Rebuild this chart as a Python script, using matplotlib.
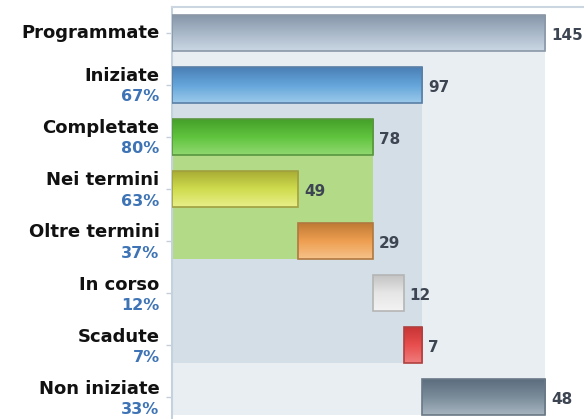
import numpy as np
import matplotlib
matplotlib.use("Agg")
import matplotlib.pyplot as plt
from matplotlib.colors import to_rgb
from matplotlib.transforms import blended_transform_factory

# ---------------- data ----------------
categories = ["Programmate", "Iniziate", "Completate", "Nei termini",
              "Oltre termini", "In corso", "Scadute", "Non iniziate"]
values = [145, 97, 78, 49, 29, 12, 7, 48]
percents = ["", "67%", "80%", "63%", "37%", "12%", "7%", "33%"]

# where each segment starts (funnel breakdown, derived from the values)
starts = [0, 0, 0, 0,
          values[3],               # Oltre termini after Nei termini
          values[2],               # In corso after Completate
          values[2] + values[5],   # Scadute after In corso
          values[1]]               # Non iniziate after Iniziate

# background groups: (parent row, last child row)
groups = [(0, 7), (1, 6), (2, 4)]

# ---------------- style ----------------
grad = [
    ("#8797A9", "#A9B8C9", "#CAD6E3", "#8A97A6"),
    ("#4A7FB5", "#64A5DA", "#9BC9EA", "#5A7FA6"),
    ("#45A02A", "#60C43E", "#90D870", "#5A9640"),
    ("#A8AD35", "#D0DC4E", "#E8EF8A", "#A0A040"),
    ("#C07A35", "#EE9F50", "#F6C28A", "#B07840"),
    ("#C4C4C4", "#E6E6E6", "#F3F3F3", "#B5B5B5"),
    ("#C83434", "#E84E4E", "#F07C7C", "#B04040"),
    ("#5C6E7E", "#7A8C9A", "#A6B4BF", "#6A7886"),
]
region_colors = ["#E9EEF3", "#D3DEE7", "#B3DB87"]
bar_h = 0.69

fig = plt.figure(figsize=(5.84, 4.19), dpi=100)
ax = fig.add_axes([171.5 / 584, 0.0, 1 - 171.5 / 584, 1 - 7 / 419])
ax.set_facecolor("white")

rows = np.arange(len(categories))

# background regions
for (p, last), col in zip(groups, region_colors):
    ax.barh((p + last) / 2 + bar_h / 2, values[p], height=last - p, left=0,
            color=col, edgecolor="none", zorder=1)

# bars
bars = ax.barh(rows, values, left=starts, height=bar_h, color="none",
               edgecolor="none", zorder=3)
for b, (c0, c1, c2, ec) in zip(bars, grad):
    x0, y0 = b.get_x(), b.get_y()
    w, h = b.get_width(), b.get_height()
    t = np.linspace(0, 1, 64)
    a0, a1, a2 = np.array(to_rgb(c0)), np.array(to_rgb(c1)), np.array(to_rgb(c2))
    cols = np.where(t[:, None] < 0.5,
                    a0 + (a1 - a0) * (t[:, None] / 0.5),
                    a1 + (a2 - a1) * ((t[:, None] - 0.5) / 0.5))
    img = np.repeat(cols[:, None, :], 2, axis=1)
    im = ax.imshow(img, extent=(x0, x0 + w, y0 + h, y0), origin="upper",
                   aspect="auto", zorder=3, interpolation="bilinear")
    im.set_clip_path(b)
    ax.add_patch(plt.Rectangle((x0, y0), w, h, fill=False, edgecolor=ec,
                               linewidth=1.2, zorder=4))

# value labels
for b, v in zip(bars, values):
    ax.annotate(str(v), (b.get_x() + b.get_width(), b.get_y() + b.get_height() / 2),
                xytext=(4.5, -1.5), textcoords="offset points", va="center",
                ha="left", fontsize=11, fontweight="bold", color="#3D4552",
                zorder=5, annotation_clip=False)

# category labels
trans = blended_transform_factory(ax.transAxes, ax.transData)
for r, name, pct in zip(rows, categories, percents):
    if pct:
        ax.annotate(name, (0, r), xycoords=trans, xytext=(-8.6, 2.6),
                    textcoords="offset points", ha="right", va="baseline",
                    fontsize=13, fontweight="bold", color="#111111",
                    annotation_clip=False)
        ax.annotate(pct, (0, r), xycoords=trans, xytext=(-8.6, -3.2),
                    textcoords="offset points", ha="right", va="top",
                    fontsize=11.5, fontweight="bold", color="#3E74B5",
                    annotation_clip=False)
    else:
        ax.annotate(name, (0, r), xycoords=trans, xytext=(-8.6, 0),
                    textcoords="offset points", ha="right", va="center",
                    fontsize=13, fontweight="bold", color="#111111",
                    annotation_clip=False)

ax.set_xlim(0, 160)
ax.set_ylim(7.42, -0.5)
ax.set_yticks(rows)
ax.set_yticklabels([])
ax.set_xticks([])
ax.tick_params(axis="y", length=4.3, width=1, color="#C5CFDA")
for s in ["right", "bottom"]:
    ax.spines[s].set_visible(False)
ax.spines["left"].set_color("#C5D1DD")
ax.spines["left"].set_linewidth(1.5)
ax.spines["top"].set_color("#CCD6E0")
ax.spines["top"].set_linewidth(1.5)

fig.savefig("out.png", dpi=100, facecolor="white")
